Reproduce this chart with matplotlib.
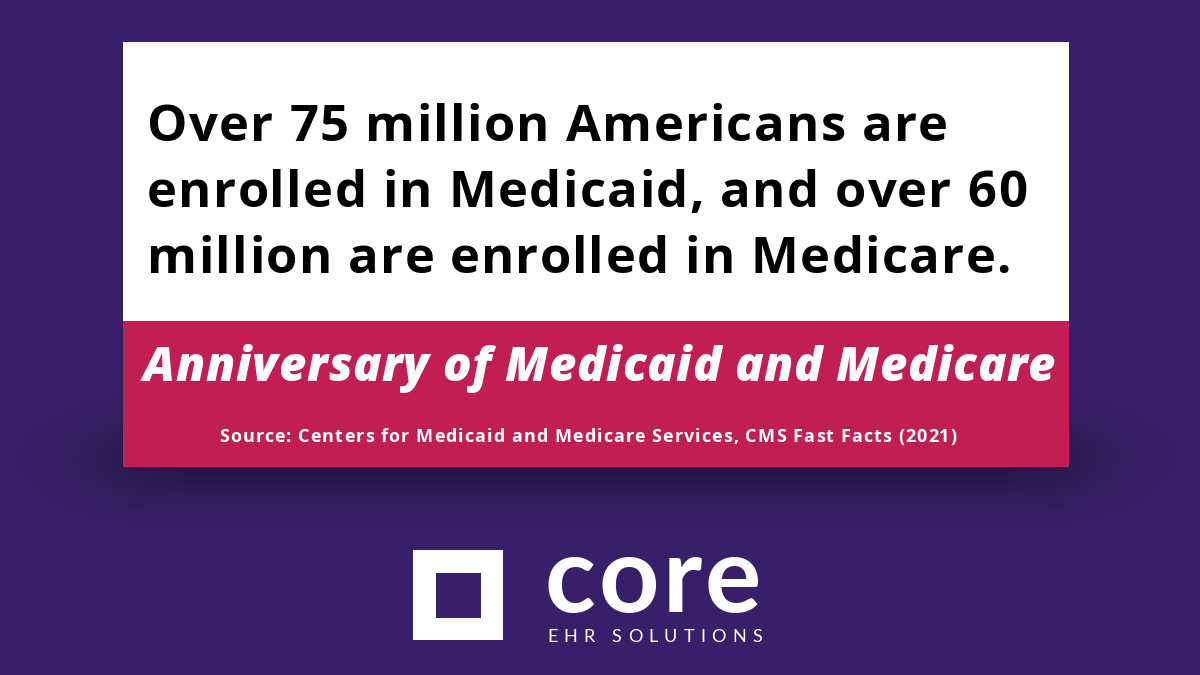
import numpy as np
import matplotlib.pyplot as plt
from matplotlib.patches import Rectangle

# text content of the card
headline_lines = ["Over 75 million Americans are",
                  "enrolled in Medicaid, and over 60",
                  "million are enrolled in Medicare."]
banner_title = "Anniversary of Medicaid and Medicare"
source_note = "Source: Centers for Medicaid and Medicare Services, CMS Fast Facts (2021)"
brand_name = "core"
brand_tag = "EHR SOLUTIONS"

W, H = 1200, 675
purple = "#38216a"
pink = "#c11f52"

fig = plt.figure(figsize=(12, 6.75), dpi=100)
ax = fig.add_axes([0, 0, 1, 1])
ax.set_xlim(0, W)
ax.set_ylim(H, 0)
ax.axis("off")
renderer = fig.canvas.get_renderer()


def ink_width(s, **kw):
    t = ax.text(0, 0, s, **kw)
    w = t.get_window_extent(renderer).width
    t.remove()
    return w


def tracked_text(x, y, s, track, ha="left", **kw):
    # draw a string char by char with extra letter spacing (pixels)
    bar = ink_width("|", **kw)
    lefts = [0.0]
    for i in range(1, len(s)):
        lefts.append(ink_width(s[:i] + "|", **kw) - bar + i * track)
    total = lefts[-1] + ink_width(s[-1], **kw)
    x0 = x - total / 2 if ha == "center" else x
    for ch, off in zip(s, lefts):
        if ch != " ":
            ax.text(x0 + off, y, ch, ha="left", va="baseline", **kw)


# background with soft shadow under the card
yy, xx = np.mgrid[0:H, 0:W]
base = np.array([0x38, 0x21, 0x6a]) / 255.0
dark = np.array([0x25, 0x19, 0x47]) / 255.0
dx = np.clip(np.abs(xx - 596) - 400, 0, None) / 120.0
dy = (yy - 458) / 48.0
w = np.exp(-(dx ** 2 + dy ** 2))
img = base[None, None, :] * (1 - w[..., None]) + dark[None, None, :] * w[..., None]
ax.imshow(img, extent=(0, W, H, 0), zorder=0, aspect="auto")

# card
ax.add_patch(Rectangle((123, 42), 946, 279, facecolor="white", edgecolor="none", zorder=2))
ax.add_patch(Rectangle((123, 321), 946, 146, facecolor=pink, edgecolor="none", zorder=2))

head_kw = dict(fontsize=36.5, fontweight="bold", family="Open Sans", color="black", zorder=3)
for i, line in enumerate(headline_lines):
    tracked_text(147, 141 + 66 * i, line, 1.4, **head_kw)

title_kw = dict(fontsize=34, fontweight="heavy", fontstyle="italic", family="Open Sans",
                color="white", zorder=3)
tracked_text(599, 381, banner_title, 0.7, ha="center", **title_kw)

src_kw = dict(fontsize=13, fontweight="bold", family="Open Sans", color="white", zorder=3)
tracked_text(588, 442, source_note, 1.1, ha="center", **src_kw)

# logo
ax.add_patch(Rectangle((413, 550), 90, 90, facecolor="white", edgecolor="none", zorder=2))
ax.add_patch(Rectangle((436, 573), 45, 45, facecolor=purple, edgecolor="none", zorder=3))
tracked_text(545, 612, brand_name, 3, fontsize=76, fontweight="bold", family="Lato",
             color="white", zorder=3)
tracked_text(547, 642, brand_tag, 6.2, fontsize=13, family="Lato", color="white", zorder=3)

fig.savefig("out.png", dpi=100)
